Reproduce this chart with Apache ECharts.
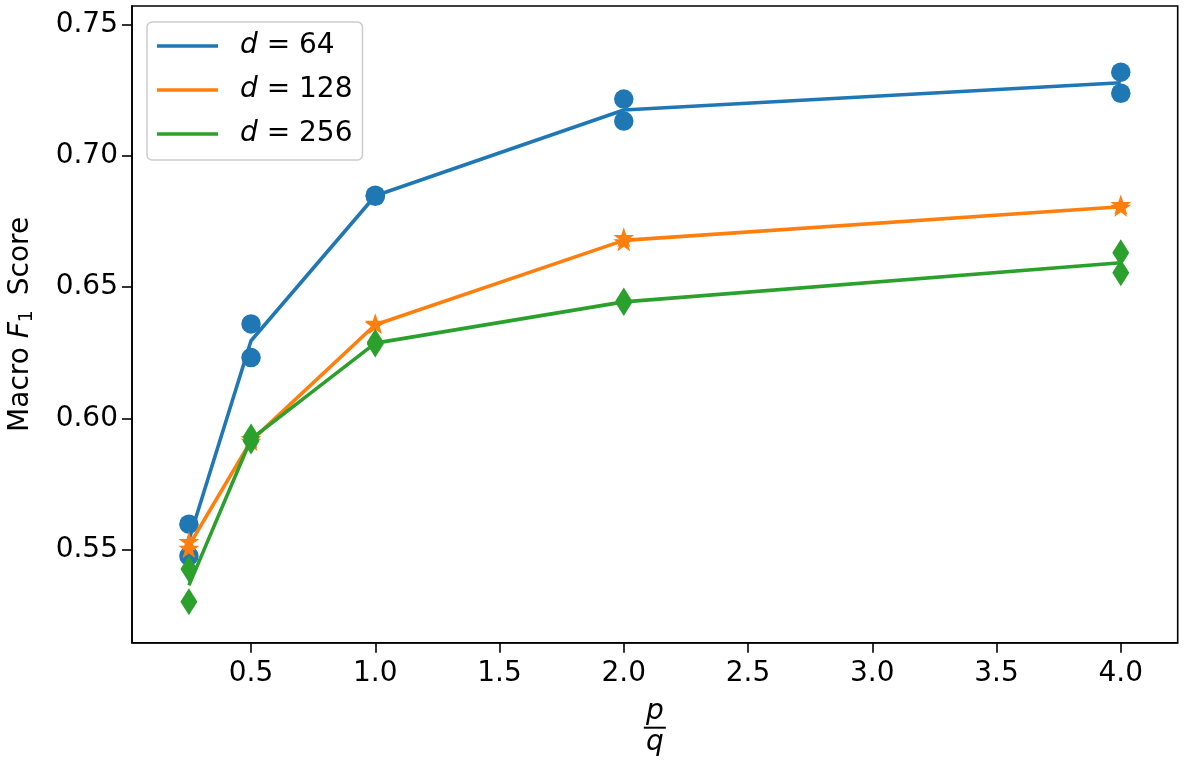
<!DOCTYPE html>
<html>
<head>
<meta charset="utf-8">
<script src="https://cdn.jsdelivr.net/npm/echarts@6/dist/echarts.min.js"></script>
<style>
  html, body { margin: 0; padding: 0; background: #ffffff; }
  #chart { width: 1190px; height: 760px; }
</style>
</head>
<body>
<div id="chart"></div>
<script>
// ---- data ----
const xValues = [0.25, 0.5, 1.0, 2.0, 4.0];
const dLabels = ['64', '128', '256'];

const d64RunA  = [0.5598, 0.6360, 0.6850, 0.7216, 0.7318];
const d64RunB  = [0.5477, 0.6232, 0.6846, 0.7132, 0.7238];
const d64Line  = [0.5538, 0.6296, 0.6848, 0.7174, 0.7278];

const d128RunA = [0.5529, 0.5920, 0.6359, 0.6686, 0.6811];
const d128RunB = [0.5503, 0.5910, 0.6355, 0.6670, 0.6801];
const d128Line = [0.5516, 0.5915, 0.6357, 0.6678, 0.6806];

const d256RunA = [0.5427, 0.5930, 0.6290, 0.6447, 0.6631];
const d256RunB = [0.5303, 0.5915, 0.6284, 0.6442, 0.6555];
const d256Line = [0.5365, 0.5922, 0.6287, 0.6444, 0.6593];

const xTicks = [0.5, 1.0, 1.5, 2.0, 2.5, 3.0, 3.5, 4.0];
const yTicks = [0.55, 0.60, 0.65, 0.70, 0.75];

// ---- styling ----
const colors = ['#1f77b4', '#ff7f0e', '#2ca02c'];
const FONT = 'DejaVu Sans';
const FS = 28;
const starPath = 'path://M0,-100 L22.45,-30.9 L95.11,-30.9 L36.33,11.8 L58.78,80.9 L0,38.2 L-58.78,80.9 L-36.33,11.8 L-95.11,-30.9 L-22.45,-30.9 Z';
const markers = [
  { symbol: 'circle', size: 19.5, offset: [0, 0] },
  { symbol: starPath, size: [21, 20], offset: [0, -1] },
  { symbol: 'diamond', size: [17, 27], offset: [0, 0] }
];

const lines = [d64Line, d128Line, d256Line];
const runsA = [d64RunA, d128RunA, d256RunA];
const runsB = [d64RunB, d128RunB, d256RunB];

const zip = (xs, ys) => xs.map((x, i) => [x, ys[i]]);

const series = [];
dLabels.forEach((lab, k) => {
  const name = 'd = ' + lab;
  series.push({
    name: name,
    type: 'line',
    data: zip(xValues, lines[k]),
    showSymbol: false,
    symbol: 'none',
    lineStyle: { color: colors[k], width: 3.6 },
    itemStyle: { color: colors[k] },
    z: 2 + k * 2,
    animation: false
  });
  series.push({
    name: name,
    type: 'scatter',
    data: zip(xValues, runsA[k]).concat(zip(xValues, runsB[k])),
    symbol: markers[k].symbol,
    symbolSize: markers[k].size,
    symbolOffset: markers[k].offset,
    symbolKeepAspect: false,
    itemStyle: { color: colors[k], opacity: 1 },
    z: 3 + k * 2,
    animation: false
  });
});

const chart = echarts.init(document.getElementById('chart'), null, { renderer: 'canvas' });
chart.setOption({
  animation: false,
  backgroundColor: '#ffffff',
  textStyle: { fontFamily: FONT },
  grid: {
    left: 132, top: 6, right: 12.3, bottom: 117.3,
    containLabel: false,
    outerBoundsMode: 'none',
    show: true, borderColor: '#000000', borderWidth: 1.6,
    backgroundColor: 'transparent'
  },
  legend: {
    orient: 'vertical',
    left: 147, top: 22,
    padding: [10, 10, 12, 10],
    itemGap: 16,
    itemWidth: 61, itemHeight: 3.6,
    icon: 'rect',
    backgroundColor: 'rgba(255,255,255,0.8)',
    borderColor: '#cccccc', borderWidth: 1.5, borderRadius: 5,
    data: dLabels.map(l => 'd = ' + l),
    formatter: name => name.replace('d', '{i|d}'),
    textStyle: {
      fontFamily: FONT, fontSize: FS, color: '#000', lineHeight: 28,
      padding: [0, 0, 0, 17],
      rich: { i: { fontFamily: FONT, fontSize: FS, fontStyle: 'italic', color: '#000' } }
    }
  },
  xAxis: {
    type: 'value',
    min: 0.021, max: 4.229,
    splitLine: { show: false },
    axisLine: { show: true, onZero: false, lineStyle: { color: '#000', width: 1.6 } },
    axisTick: { show: true, length: 10, lineStyle: { color: '#000', width: 1.6 }, customValues: xTicks },
    axisLabel: {
      customValues: xTicks, margin: 17,
      fontFamily: FONT, fontSize: FS, color: '#000',
      formatter: v => Number(v).toFixed(1)
    },
    name: '{p|p}\n{bar|}\n{q|q}',
    nameLocation: 'middle',
    nameGap: 57,
    nameTextStyle: {
      align: 'center', verticalAlign: 'top',
      rich: {
        p: { fontFamily: FONT, fontSize: FS, fontStyle: 'italic', color: '#000', lineHeight: 25, align: 'center' },
        bar: { width: 22, height: 2, backgroundColor: '#000', lineHeight: 6, align: 'center' },
        q: { fontFamily: FONT, fontSize: FS, fontStyle: 'italic', color: '#000', lineHeight: 25, align: 'center' }
      }
    }
  },
  yAxis: {
    type: 'value',
    min: 0.5147, max: 0.757,
    splitLine: { show: false },
    axisLine: { show: true, onZero: false, lineStyle: { color: '#000', width: 1.6 } },
    axisTick: { show: true, length: 10, lineStyle: { color: '#000', width: 1.6 }, customValues: yTicks },
    axisLabel: {
      customValues: yTicks, margin: 14,
      fontFamily: FONT, fontSize: FS, color: '#000',
      formatter: v => Number(v).toFixed(2)
    },
    name: '{n|Macro }{i|F}{s|1}{n| Score}',
    nameLocation: 'middle',
    nameGap: 95,
    nameTextStyle: {
      rich: {
        n: { fontFamily: FONT, fontSize: FS, color: '#000', lineHeight: 32, verticalAlign: 'middle' },
        i: { fontFamily: FONT, fontSize: FS, fontStyle: 'italic', color: '#000', lineHeight: 32, verticalAlign: 'middle' },
        s: { fontFamily: FONT, fontSize: 19, color: '#000', lineHeight: 32, verticalAlign: 'bottom', padding: [0, 6, 0, 0] }
      }
    }
  },
  series: series
});
</script>
</body>
</html>
